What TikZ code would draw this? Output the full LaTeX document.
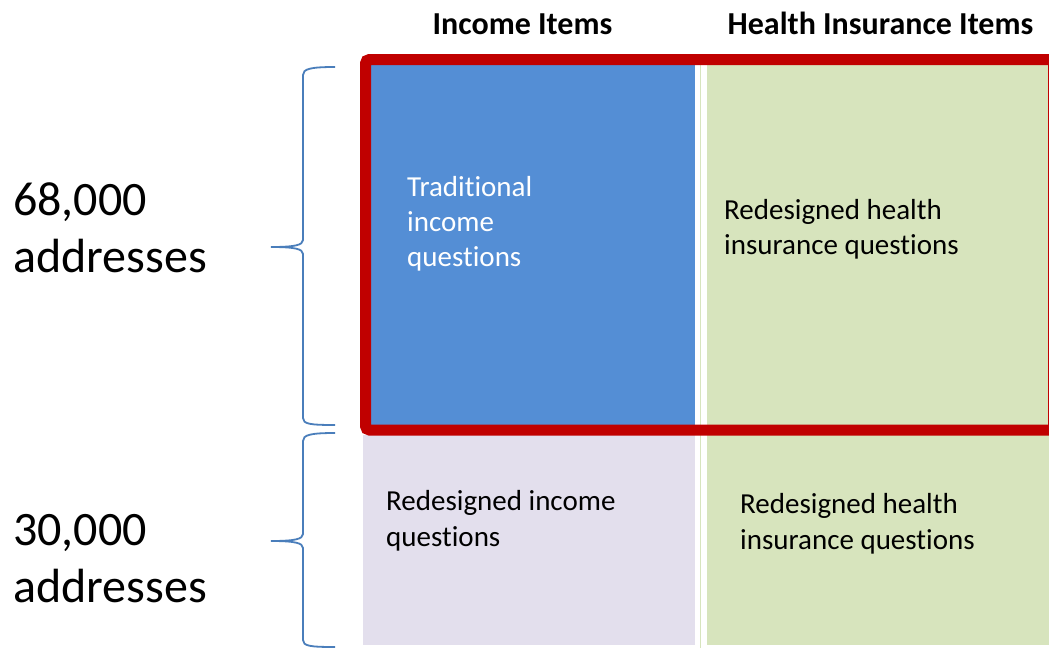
\documentclass[tikz,border=0pt]{standalone}
\usepackage{fontspec}
\setmainfont{Carlito}[Ligatures={NoCommon}]
\definecolor{cblue}{RGB}{84,142,213}
\definecolor{cgreen}{RGB}{215,228,189}
\definecolor{clav}{RGB}{227,223,237}
\definecolor{cred}{RGB}{192,0,0}
\definecolor{cbrace}{RGB}{74,126,187}
\tikzset{
  big/.style={anchor=base west, inner sep=0pt, font=\fontsize{48}{58}\selectfont},
  head/.style={anchor=base, inner sep=0pt, font=\fontsize{32}{38}\selectfont\bfseries},
  body/.style={anchor=base west, inner sep=0pt, font=\fontsize{29}{35}\selectfont},
  bracepath/.style={draw=cbrace, line width=1.8pt},
}
\begin{document}
\begin{tikzpicture}[x=1pt,y=-1pt]
\useasboundingbox (0,0) rectangle (1049,648);
\clip (0,0) rectangle (1049,648);
% blocks
\fill[cgreen] (707,65) rectangle (1060,645);
\fill[cgreen] (699.5,65) rectangle (701,648);
\fill[cblue] (371,65) rectangle (695,425);
\fill[clav] (363,435) rectangle (695,645);
% red frame
\draw[cred, line width=11pt, rounded corners=4pt] (365.5,59.5) rectangle (1053.5,430);
% braces
\draw[bracepath] (335,67) .. controls (310,67) and (303,69) .. (303,75) -- (303,240)
  .. controls (303,245) and (295,247) .. (271,247)
  .. controls (295,247) and (303,249) .. (303,254) -- (303,418)
  .. controls (303,424) and (310,425) .. (335,425);
\draw[bracepath] (335,433) .. controls (310,433) and (303,435) .. (303,441) -- (303,534)
  .. controls (303,539) and (295,541) .. (271,541)
  .. controls (295,541) and (303,543) .. (303,548) -- (303,640)
  .. controls (303,646) and (310,647) .. (335,647);
% headers
\node[head] (h1) at (522.5,34) {Income Items};
\node[head] (h2) at (880.5,34) {Health Insurance Items};
% side labels
\node[big] (a1) at (13,215) {68,000};
\node[big] (a2) at (13,272) {addresses};
\node[big] (b1) at (13,545) {30,000};
\node[big] (b2) at (13,602) {addresses};
% block texts
\node[body, text=white] (t1) at (407,196) {Traditional};
\node[body, text=white] (t2) at (407,231) {income};
\node[body, text=white] (t3) at (407,266) {questions};
\node[body] (r1) at (724,219) {Redesigned health};
\node[body] (r2) at (724,254) {insurance questions};
\node[body] (l1) at (386,510) {Redesigned income};
\node[body] (l2) at (386,546) {questions};
\node[body] (s1) at (740,513) {Redesigned health};
\node[body] (s2) at (740,549) {insurance questions};
\end{tikzpicture}
\end{document}
